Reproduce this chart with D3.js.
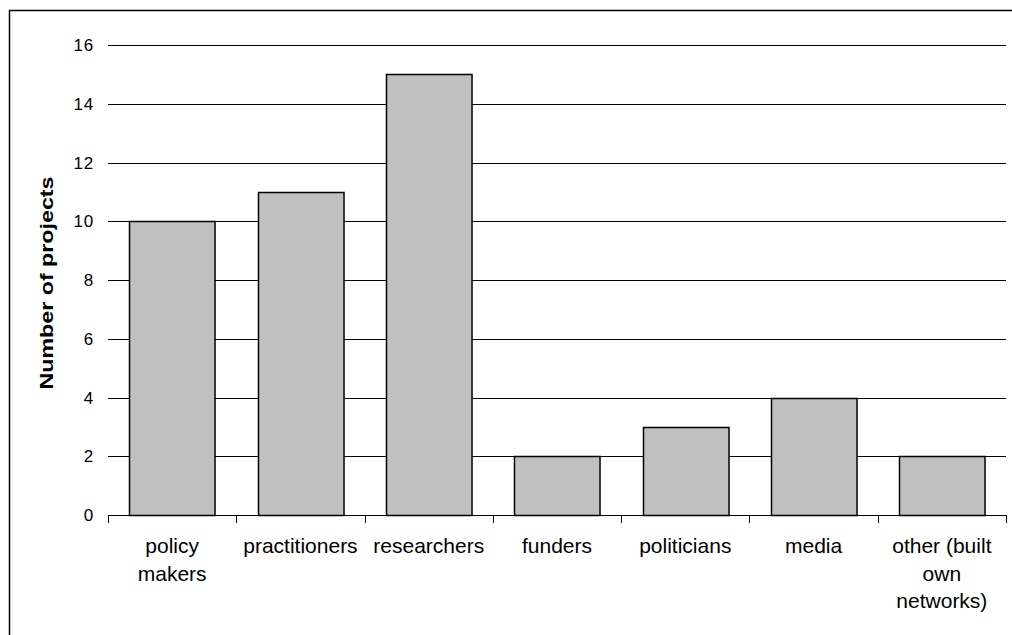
<!DOCTYPE html>
<html>
<head>
<meta charset="utf-8">
<script src="https://cdn.jsdelivr.net/npm/d3@7"></script>
<style>
  html, body { margin: 0; padding: 0; background: #fff; }
  svg { display: block; }
  text { font-family: Arial, "Liberation Sans", sans-serif; fill: #000; }
</style>
</head>
<body>
<svg id="chart" width="1012" height="635"></svg>
<script>
// Audience groups reached, with number of projects per group
const categories = [
  ["policy", "makers"],
  ["practitioners"],
  ["researchers"],
  ["funders"],
  ["politicians"],
  ["media"],
  ["other (built", "own", "networks)"]
];
const projectCounts = [10, 11, 15, 2, 3, 4, 2];
const yTicks = [0, 2, 4, 6, 8, 10, 12, 14, 16];
const yTitle = "Number of projects";

const svg = d3.select("#chart");

// Outer frame (top and left edges visible)
svg.append("path")
  .attr("d", "M9.5,640 L9.5,10.5 L1020,10.5")
  .attr("fill", "none")
  .attr("stroke", "#000")
  .attr("stroke-width", 1.5);

const plot = { left: 108, right: 1006, top: 45, bottom: 515 };

const x = d3.scaleBand()
  .domain(d3.range(categories.length))
  .range([plot.left, plot.right])
  .paddingInner(1 / 3)
  .paddingOuter(1 / 6);

const y = d3.scaleLinear()
  .domain([0, 16])
  .range([plot.bottom, plot.top]);

// Horizontal gridlines
svg.append("g")
  .selectAll("line")
  .data(yTicks.filter(d => d > 0))
  .join("line")
  .attr("x1", plot.left)
  .attr("x2", plot.right)
  .attr("y1", d => Math.round(y(d)) + 0.5)
  .attr("y2", d => Math.round(y(d)) + 0.5)
  .attr("stroke", "#000")
  .attr("stroke-width", 1);

// Y tick labels
svg.append("g")
  .selectAll("text")
  .data(yTicks)
  .join("text")
  .attr("x", 94)
  .attr("y", d => y(d))
  .attr("dy", "0.36em")
  .attr("text-anchor", "end")
  .attr("font-size", 17)
  .attr("letter-spacing", 0.8)
  .text(d => d);

// Bars
svg.append("g")
  .selectAll("rect")
  .data(projectCounts)
  .join("rect")
  .attr("x", (d, i) => Math.round(x(i)) + 0.5)
  .attr("y", d => Math.round(y(d)) + 0.5)
  .attr("width", x.bandwidth())
  .attr("height", d => Math.round(y(0)) - Math.round(y(d)))
  .attr("fill", "#c0c0c0")
  .attr("stroke", "#000")
  .attr("stroke-width", 1.5);

// X axis line with category boundary ticks
const xAxis = svg.append("g");
xAxis.append("line")
  .attr("x1", plot.left)
  .attr("x2", plot.right)
  .attr("y1", plot.bottom + 0.5)
  .attr("y2", plot.bottom + 0.5)
  .attr("stroke", "#000")
  .attr("stroke-width", 1);
const step = x.step();
xAxis.selectAll("line.tick")
  .data(d3.range(categories.length + 1))
  .join("line")
  .attr("class", "tick")
  .attr("x1", i => Math.round(plot.left + i * step) + 0.5)
  .attr("x2", i => Math.round(plot.left + i * step) + 0.5)
  .attr("y1", plot.bottom)
  .attr("y2", plot.bottom + 8)
  .attr("stroke", "#000")
  .attr("stroke-width", 1);

// Category labels (multi-line)
const labels = svg.append("g")
  .selectAll("text")
  .data(categories)
  .join("text")
  .attr("text-anchor", "middle")
  .attr("font-size", 21)
  .attr("transform", (d, i) => `translate(${x(i) + x.bandwidth() / 2},553)`);
labels.selectAll("tspan")
  .data(d => d)
  .join("tspan")
  .attr("x", 0)
  .attr("y", (d, j) => j * 27.5)
  .text(d => d);

// Y axis title
svg.append("text")
  .attr("transform", `translate(53,${(plot.top + plot.bottom) / 2 + 3}) rotate(-90)`)
  .attr("text-anchor", "middle")
  .attr("font-size", 19)
  .attr("font-weight", "bold")
  .attr("textLength", 213)
  .attr("lengthAdjust", "spacingAndGlyphs")
  .text(yTitle);
</script>
</body>
</html>
